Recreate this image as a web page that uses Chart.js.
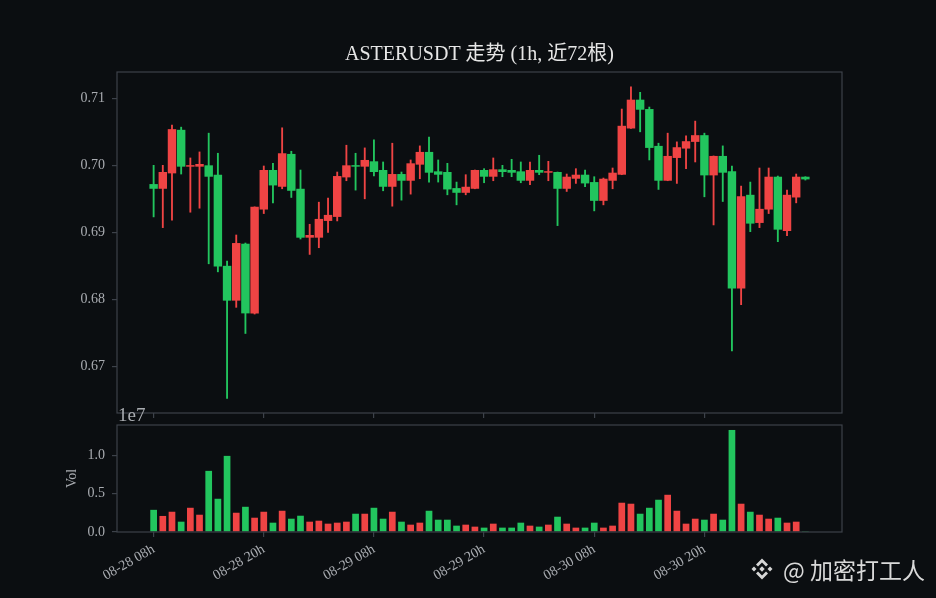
<!DOCTYPE html>
<html>
<head>
<meta charset="utf-8">
<script src="https://cdn.jsdelivr.net/npm/chart.js@4.4.1/dist/chart.umd.min.js"></script>
<style>
  html, body { margin: 0; padding: 0; background: #0b0e11; }
  #wrap { position: relative; width: 936px; height: 598px; background: #0b0e11; overflow: hidden; }
  #wrap canvas { position: absolute; left: 0; top: 0; }
  #mark { position: absolute; left: 750px; top: 555px; height: 28px; display: flex; align-items: center;
          color: #d9d9d9; font-family: 'Noto Sans CJK SC', 'Noto Sans', sans-serif; font-size: 23px; }
  #mark svg { margin-right: 9px; }
</style>
</head>
<body>
<div id="wrap">
  <canvas id="price" width="936" height="598"></canvas>
  <canvas id="vol" width="936" height="598"></canvas>
  <div id="mark">
    <svg width="24" height="24" viewBox="0 0 24 24"><g fill="#d6d6d6">
      <polygon points="12,1.5 18,7.5 16,9.5 12,5.5 8,9.5 6,7.5"/>
      <polygon points="12,22.5 18,16.5 16,14.5 12,18.5 8,14.5 6,16.5"/>
      <polygon points="1.5,12 4,9.5 6.5,12 4,14.5"/>
      <polygon points="22.5,12 20,9.5 17.5,12 20,14.5"/>
      <polygon points="12,9.3 14.7,12 12,14.7 9.3,12"/>
    </g></svg>
    <span>@ 加密打工人</span>
  </div>
</div>
<script>
'use strict';
// hourly candles, 08-28 08h .. 08-31 07h
const opens = [0.6972, 0.6965, 0.6988, 0.7053, 0.6998, 0.6998, 0.7000, 0.6986, 0.6850, 0.6798,
  0.6883, 0.6779, 0.6934, 0.6993, 0.6968, 0.7017, 0.6965, 0.6892, 0.6892, 0.6917,
  0.6923, 0.6982, 0.7000, 0.6998, 0.7006, 0.6993, 0.6968, 0.6987, 0.6977, 0.7001,
  0.7020, 0.6991, 0.6990, 0.6966, 0.6959, 0.6965, 0.6993, 0.6983, 0.6994, 0.6993,
  0.6991, 0.6977, 0.6993, 0.6989, 0.6990, 0.6965, 0.6980, 0.6986, 0.6975, 0.6947,
  0.6977, 0.6986, 0.7055, 0.7098, 0.7084, 0.7029, 0.6977, 0.7011, 0.7025, 0.7035,
  0.7045, 0.6985, 0.7014, 0.6991, 0.6816, 0.6956, 0.6914, 0.6934, 0.6983, 0.6902,
  0.6952, 0.6983];
const highs = [0.7000, 0.7000, 0.7060, 0.7057, 0.7011, 0.7020, 0.7048, 0.7018, 0.6857, 0.6896,
  0.6884, 0.6938, 0.6999, 0.7003, 0.7056, 0.7021, 0.6993, 0.6912, 0.6945, 0.6951,
  0.6990, 0.7030, 0.7018, 0.7026, 0.7038, 0.7005, 0.7033, 0.6990, 0.7008, 0.7029,
  0.7042, 0.7008, 0.7003, 0.6975, 0.6986, 0.6993, 0.6995, 0.7011, 0.7000, 0.7009,
  0.7005, 0.7005, 0.7015, 0.7006, 0.6990, 0.6987, 0.6995, 0.6993, 0.6983, 0.6981,
  0.6996, 0.7084, 0.7117, 0.7109, 0.7087, 0.7033, 0.7048, 0.7035, 0.7044, 0.7066,
  0.7048, 0.7014, 0.7029, 0.6999, 0.6969, 0.6975, 0.6996, 0.6996, 0.6984, 0.6963,
  0.6987, 0.6983];
const lows = [0.6923, 0.6907, 0.6918, 0.6987, 0.6930, 0.6936, 0.6853, 0.6841, 0.6652, 0.6788,
  0.6749, 0.6778, 0.6928, 0.6944, 0.6965, 0.6952, 0.6890, 0.6867, 0.6877, 0.6900,
  0.6917, 0.6977, 0.6963, 0.6950, 0.6984, 0.6962, 0.6939, 0.6948, 0.6957, 0.6980,
  0.6975, 0.6975, 0.6956, 0.6941, 0.6956, 0.6965, 0.6974, 0.6977, 0.6983, 0.6983,
  0.6974, 0.6971, 0.6986, 0.6977, 0.6910, 0.6961, 0.6973, 0.6968, 0.6932, 0.6941,
  0.6965, 0.6986, 0.7055, 0.7050, 0.7008, 0.6964, 0.6977, 0.6973, 0.6995, 0.7005,
  0.6953, 0.6911, 0.6946, 0.6723, 0.6792, 0.6901, 0.6907, 0.6928, 0.6886, 0.6895,
  0.6944, 0.6978];
const closes = [0.6965, 0.6990, 0.7054, 0.6998, 0.7000, 0.7002, 0.6983, 0.6849, 0.6798, 0.6884,
  0.6779, 0.6938, 0.6993, 0.6970, 0.7018, 0.6962, 0.6892, 0.6896, 0.6920, 0.6926,
  0.6984, 0.7000, 0.6998, 0.7008, 0.6990, 0.6968, 0.6987, 0.6977, 0.7003, 0.7020,
  0.6989, 0.6986, 0.6964, 0.6959, 0.6968, 0.6993, 0.6983, 0.6994, 0.6990, 0.6989,
  0.6977, 0.6993, 0.6989, 0.6991, 0.6965, 0.6983, 0.6986, 0.6973, 0.6947, 0.6980,
  0.6989, 0.7059, 0.7098, 0.7083, 0.7026, 0.6977, 0.7014, 0.7027, 0.7036, 0.7045,
  0.6985, 0.7014, 0.6989, 0.6816, 0.6954, 0.6913, 0.6935, 0.6983, 0.6904, 0.6956,
  0.6983, 0.6979];
const volumes = [2900000, 2100000, 2650000, 1350000, 3170000, 2260000, 8000000, 4350000, 9960000, 2520000,
  3300000, 1870000, 2650000, 1220000, 2780000, 1740000, 2130000, 1350000, 1480000, 1090000,
  1220000, 1350000, 2390000, 2390000, 3170000, 1740000, 2650000, 1350000, 960000, 1220000,
  2780000, 1610000, 1610000, 830000, 960000, 700000, 570000, 1090000, 570000, 570000,
  1220000, 830000, 700000, 960000, 2000000, 1090000, 570000, 570000, 1220000, 570000,
  830000, 3830000, 3700000, 2390000, 3170000, 4220000, 4870000, 2780000, 1090000, 1740000,
  1610000, 2390000, 1610000, 13350000, 3700000, 2650000, 2260000, 1740000, 1870000, 1220000,
  1350000, 40000];
const tickIndex = [0, 12, 24, 36, 48, 60];
const tickLabels = ['08-28 08h', '08-28 20h', '08-29 08h', '08-29 20h', '08-30 08h', '08-30 20h'];
const priceTicks = [0.67, 0.68, 0.69, 0.70, 0.71];
const volTicks = [0, 5000000, 10000000];

const UP = '#ef4444';
const DOWN = '#22c55e';
const SPINE = '#3d424a';
const TEXT = '#a9acb1';
const SERIF = "'Liberation Serif', 'Noto Sans CJK SC', serif";
const colors = closes.map((c, i) => (c >= opens[i] ? UP : DOWN));

const frame = {
  id: 'frame',
  afterDraw(chart) {
    const a = chart.chartArea;
    const ctx = chart.ctx;
    ctx.save();
    ctx.strokeStyle = SPINE;
    ctx.lineWidth = 1.2;
    ctx.strokeRect(a.left, a.top, a.right - a.left, a.bottom - a.top);
    ctx.restore();
  }
};

const titleText = {
  id: 'titleText',
  afterDraw(chart) {
    const a = chart.chartArea;
    const ctx = chart.ctx;
    ctx.save();
    ctx.fillStyle = '#e6e6e6';
    ctx.font = '20px ' + SERIF;
    ctx.textAlign = 'center';
    ctx.textBaseline = 'alphabetic';
    ctx.fillText('ASTERUSDT 走势 (1h, 近72根)', (a.left + a.right) / 2, 60);
    ctx.restore();
  }
};

const offsetText = {
  id: 'offsetText',
  afterDraw(chart) {
    const ctx = chart.ctx;
    ctx.save();
    ctx.fillStyle = TEXT;
    ctx.font = '19px ' + SERIF;
    ctx.textAlign = 'left';
    ctx.textBaseline = 'alphabetic';
    ctx.fillText('1e7', chart.chartArea.left + 1, 421);
    ctx.restore();
  }
};

const xBase = {
  type: 'linear',
  min: -3.99,
  max: 74.99,
  offset: false,
  border: { display: false },
  grid: { offset: false, drawOnChartArea: false, drawTicks: true, tickLength: 5, color: SPINE, lineWidth: 1.2 },
  afterBuildTicks: s => { s.ticks = tickIndex.map(v => ({ value: v })); }
};

new Chart(document.getElementById('price'), {
  type: 'bar',
  data: {
    datasets: [
      {
        label: 'body',
        data: opens.map((o, i) => ({ x: i, y: [o, closes[i]] })),
        backgroundColor: colors,
        barPercentage: 0.92,
        categoryPercentage: 1,
        minBarLength: 1.5,
        grouped: false,
        order: 0
      },
      {
        label: 'wick',
        data: highs.map((h, i) => ({ x: i, y: [lows[i], h] })),
        backgroundColor: colors,
        barThickness: 1.2,
        grouped: false,
        order: 1
      }
    ]
  },
  options: {
    responsive: false,
    animation: false,
    layout: { padding: { left: 60, right: 94, top: 72, bottom: 175 } },
    plugins: { legend: { display: false }, tooltip: { enabled: false } },
    scales: {
      x: Object.assign({}, xBase, {
        ticks: { display: false },
        afterFit: s => { s.height = 10; }
      }),
      y: {
        min: 0.66303,
        max: 0.71393,
        border: { display: false },
        grid: { drawOnChartArea: false, tickLength: 5, color: SPINE, lineWidth: 1.2 },
        ticks: { color: TEXT, font: { family: SERIF, size: 14 }, padding: 7, callback: v => v.toFixed(2) },
        afterBuildTicks: s => { s.ticks = priceTicks.map(v => ({ value: v })); },
        afterFit: s => { s.width = 57; }
      }
    }
  },
  plugins: [frame, titleText]
});

new Chart(document.getElementById('vol'), {
  type: 'bar',
  data: {
    datasets: [{
      label: 'Vol',
      data: volumes.map((v, i) => ({ x: i, y: v })),
      backgroundColor: colors,
      barPercentage: 0.73,
      categoryPercentage: 1
    }]
  },
  options: {
    responsive: false,
    animation: false,
    layout: { padding: { left: 62, right: 94, top: 425, bottom: 16 } },
    plugins: { legend: { display: false }, tooltip: { enabled: false } },
    scales: {
      x: Object.assign({}, xBase, {
        ticks: {
          color: TEXT, font: { family: SERIF, size: 14 }, padding: 4,
          autoSkip: false, maxRotation: 30, minRotation: 30,
          callback: v => tickLabels[tickIndex.indexOf(v)]
        },
        afterFit: s => { s.height = 50; }
      }),
      y: {
        min: 0,
        max: 14000000,
        border: { display: false },
        grid: { drawOnChartArea: false, tickLength: 5, color: SPINE, lineWidth: 1.2 },
        ticks: { color: TEXT, font: { family: SERIF, size: 14 }, padding: 7, callback: v => (v / 1e7).toFixed(1) },
        title: { display: true, text: 'Vol', color: TEXT, font: { family: SERIF, size: 14 }, padding: { top: 2, bottom: 0 } },
        afterBuildTicks: s => { s.ticks = volTicks.map(v => ({ value: v })); },
        afterFit: s => { s.width = 55; }
      }
    }
  },
  plugins: [frame, offsetText]
});
</script>
</body>
</html>
